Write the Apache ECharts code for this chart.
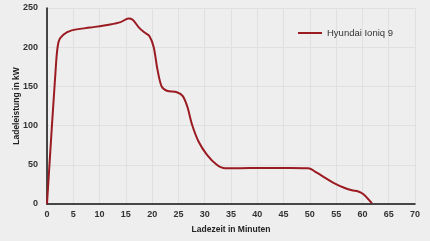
<!DOCTYPE html>
<html><head><meta charset="utf-8">
<script src="https://cdn.jsdelivr.net/npm/echarts@6/dist/echarts.min.js"></script>
<style>html,body{margin:0;padding:0;background:#eeeeee}#c{width:430px;height:241px}</style>
</head><body><div id="c"></div>
<script>
const seriesName = 'Hyundai Ioniq 9';
const minutes = [0, 1.7, 2.2, 3.1, 4.7, 8.2, 12, 14, 15.5, 16.3, 17.5, 18.5, 19.5, 20.3, 21, 21.8, 22.8, 24.7, 25.8, 26.7, 27.6, 28.8, 30.4, 32.3, 33.9, 35, 38.6, 45, 49.7, 51.3, 53, 54.5, 56.4, 58, 59.2, 60.2, 61, 61.8];
const power   = [0, 177, 207, 216, 221.5, 225, 229, 232, 236.5, 235, 225, 219, 214, 200, 172, 150, 144.5, 142.5, 138, 124, 101, 80, 63, 50, 45.5, 45.5, 46, 45.8, 45.5, 40, 33, 27, 21, 17.5, 16, 12.5, 7, 1];
const xTicks = {min: 0, max: 70, interval: 5};
const yTicks = {min: 0, max: 250, interval: 50};
const xName = 'Ladezeit in Minuten';
const yName = 'Ladeleistung in kW';

const font = "'Liberation Sans', Arial, sans-serif";
const chart = echarts.init(document.getElementById('c'));
chart.setOption({
  backgroundColor: '#eeeeee',
  animation: false,
  grid: {left: 47, right: 15, top: 8, bottom: 37, containLabel: false, outerBoundsMode: 'none'},
  legend: {
    data: [seriesName], right: 32, top: 23,
    icon: 'rect', itemWidth: 24, itemHeight: 2, itemGap: 2,
    textStyle: {color: '#333', fontSize: 9.5, fontFamily: font}
  },
  xAxis: {
    type: 'value', min: xTicks.min, max: xTicks.max, interval: xTicks.interval,
    name: xName, nameLocation: 'middle', nameGap: 21, nameMoveOverlap: false,
    nameTextStyle: {color: '#222', fontSize: 8.5, fontWeight: 'bold', fontFamily: font},
    axisLine: {show: true, lineStyle: {color: '#111', width: 1.5}},
    axisTick: {show: false},
    axisLabel: {color: '#333', fontSize: 9, fontWeight: 'bold', fontFamily: font, margin: 6},
    splitLine: {show: true, lineStyle: {color: '#e0e0e0', width: 1}}
  },
  yAxis: {
    type: 'value', min: yTicks.min, max: yTicks.max, interval: yTicks.interval,
    name: yName, nameLocation: 'middle', nameGap: 26, nameMoveOverlap: false,
    nameTextStyle: {color: '#222', fontSize: 8.5, fontWeight: 'bold', fontFamily: font},
    axisLine: {show: true, lineStyle: {color: '#111', width: 1.5}},
    axisTick: {show: false},
    axisLabel: {color: '#333', fontSize: 9, fontWeight: 'bold', fontFamily: font, margin: 9},
    splitLine: {show: true, lineStyle: {color: '#e0e0e0', width: 1}}
  },
  series: [{
    name: seriesName, type: 'line', smooth: 0.3, showSymbol: false,
    data: minutes.map((m, i) => [m, power[i]]),
    lineStyle: {color: '#9b1b22', width: 2},
    itemStyle: {color: '#9b1b22'}
  }]
});
</script></body></html>
